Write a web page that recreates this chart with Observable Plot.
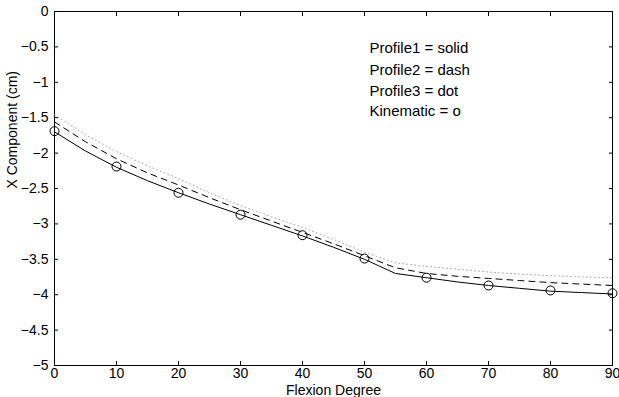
<!DOCTYPE html>
<html><head>
<meta charset="utf-8">
<script src="https://cdn.jsdelivr.net/npm/d3@7"></script>
<script src="https://cdn.jsdelivr.net/npm/@observablehq/plot@0.6"></script>
<style>
body{margin:0;background:#fff}
</style>
</head><body><div id="chart"></div>
<script>
const degrees  = [0,5,10,15,20,25,30,35,40,45,50,55,60,65,70,75,80,85,90];
const profile1 = [-1.70,-1.97,-2.20,-2.39,-2.56,-2.72,-2.87,-3.02,-3.17,-3.33,-3.50,-3.70,-3.76,-3.82,-3.87,-3.91,-3.95,-3.97,-3.99];
const profile2 = [-1.56,-1.84,-2.08,-2.28,-2.45,-2.63,-2.80,-2.96,-3.12,-3.28,-3.45,-3.62,-3.70,-3.74,-3.77,-3.80,-3.83,-3.85,-3.87];
const profile3 = [-1.46,-1.74,-1.98,-2.18,-2.36,-2.56,-2.74,-2.90,-3.05,-3.22,-3.40,-3.55,-3.60,-3.64,-3.68,-3.71,-3.73,-3.75,-3.76];
const kinDeg   = [0,10,20,30,40,50,60,70,80,90];
const kinematic= [-1.69,-2.19,-2.56,-2.87,-3.16,-3.49,-3.76,-3.87,-3.94,-3.98];
const xTicks = [0,10,20,30,40,50,60,70,80,90];
const yTicks = [0,-0.5,-1,-1.5,-2,-2.5,-3,-3.5,-4,-4.5,-5];
const legendText = ["Profile1 = solid","Profile2 = dash","Profile3 = dot","Kinematic = o"];
const legendX = 50.8;
const legendY = [-0.52,-0.83,-1.12,-1.41];

const toRows = (xs, ys) => xs.map((x,i) => ({x, y: ys[i]}));
const fmtY = d => d === 0 ? "0" : "\u2212" + String(Math.abs(d));

const chart = Plot.plot({
  width: 619, height: 397,
  marginLeft: 54, marginRight: 7, marginTop: 11, marginBottom: 32,
  style: {fontFamily: "'Liberation Sans', Arial, sans-serif", fontSize: "14px", background: "#fff", color: "#000"},
  x: {domain: [0,90]},
  y: {domain: [-5,0]},
  marks: [
    Plot.frame({stroke: "#000", strokeWidth: 1}),
    Plot.axisX({ticks: xTicks, tickSize: -4, tickPadding: 7, label: null, fontSize: 14}),
    Plot.axisX({anchor: "top", ticks: xTicks, tickSize: -4, tickFormat: () => "", label: null}),
    Plot.axisY({ticks: yTicks, tickSize: -4, tickPadding: 10, tickFormat: fmtY, label: null, fontSize: 14}),
    Plot.axisY({anchor: "right", ticks: yTicks, tickSize: -4, tickFormat: () => "", label: null}),
    Plot.text(["Flexion Degree"], {x: () => 45, frameAnchor: "bottom", lineAnchor: "middle", dy: 25, text: d => d, fontSize: 14, fill: "#000"}),
    Plot.text(["X Component (cm)"], {y: () => -2.5, frameAnchor: "left", dx: -42, rotate: -90, text: d => d, fontSize: 14, fill: "#000"}),
    Plot.line(toRows(degrees, profile3), {x: "x", y: "y", stroke: "#a8a8a8", strokeWidth: 1, strokeDasharray: "1,3"}),
    Plot.line(toRows(degrees, profile2), {x: "x", y: "y", stroke: "#000", strokeWidth: 1, strokeDasharray: "6,5"}),
    Plot.line(toRows(degrees, profile1), {x: "x", y: "y", stroke: "#000", strokeWidth: 1}),
    Plot.dot(toRows(kinDeg, kinematic), {x: "x", y: "y", r: 4.5, stroke: "#000", strokeWidth: 1, fill: "none"}),
    Plot.text(legendText, {x: () => legendX, y: (d,i) => legendY[i], text: d => d, textAnchor: "start", fontSize: 15, fill: "#000"})
  ]
});
document.getElementById("chart").appendChild(chart);
</script>
</body></html>
